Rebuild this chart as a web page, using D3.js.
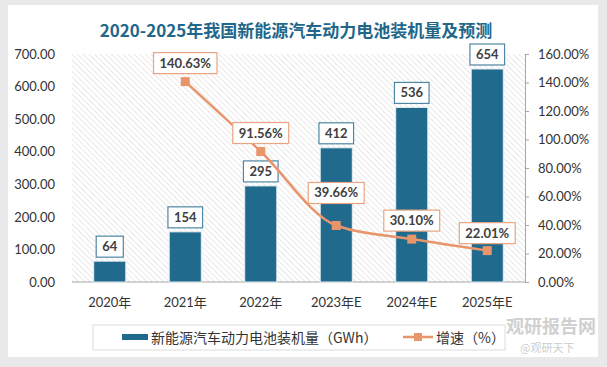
<!doctype html>
<html>
<head>
<meta charset="utf-8"/>
<title>2020-2025年我国新能源汽车动力电池装机量及预测</title>
<script src="https://d3js.org/d3.v7.min.js"></script>
<style>
  body { margin: 0; background: #e9e9e9; }
  svg { display: block; }
</style>
</head>
<body>
<script>
// data
var years = ["2020年", "2021年", "2022年", "2023年E", "2024年E", "2025年E"];
var volume = [64, 154, 295, 412, 536, 654];          // GWh
var growth = [null, 140.63, 91.56, 39.66, 30.10, 22.01]; // %
var leftTicks = [0, 100, 200, 300, 400, 500, 600, 700];
var rightTicks = [0, 20, 40, 60, 80, 100, 120, 140, 160];
var seriesNames = ["新能源汽车动力电池装机量（GWh）", "增速（%）"];

var W = 607, H = 367;
var plotL = 72, plotR = 525, plotT = 54, plotB = 282;
var barColor = "#1f6a8d", lineColor = "#e8956b";
var numFont = "Lato, 'Noto Sans CJK SC', sans-serif";
var cjkFont = "'Noto Sans CJK SC', 'Noto Sans', sans-serif";

var svg = d3.select("body").append("svg")
    .attr("width", W)
    .attr("height", H);

// card
svg.append("rect").attr("x", 8).attr("y", 5).attr("width", 590).attr("height", 352)
    .attr("fill", "#fff");

// hatch pattern
var defs = svg.append("defs");
var pat = defs.append("pattern")
    .attr("id", "hatch")
    .attr("patternUnits", "userSpaceOnUse")
    .attr("width", 4).attr("height", 4)
    .attr("patternTransform", "rotate(-45)");
pat.append("rect").attr("width", 4).attr("height", 4).attr("fill", "#fff");
pat.append("line").attr("x1", 0).attr("y1", 0).attr("x2", 0).attr("y2", 4)
    .attr("stroke", "#d9d9d9").attr("stroke-width", 1.2);

svg.append("rect").attr("x", plotL).attr("y", plotT)
    .attr("width", plotR - plotL).attr("height", plotB - plotT)
    .attr("fill", "url(#hatch)");

// title
svg.append("text")
    .attr("x", 296).attr("y", 37)
    .attr("text-anchor", "middle")
    .attr("font-family", cjkFont)
    .attr("font-weight", "bold")
    .attr("font-size", 17)
    .attr("fill", "#22678a")
    .text("2020-2025年我国新能源汽车动力电池装机量及预测");

// scales
var x = d3.scaleBand().domain(years).range([plotL, plotR])
    .paddingInner(0.575).paddingOuter(0.2875);
var yL = d3.scaleLinear().domain([0, 700]).range([plotB, plotT]);
var yR = d3.scaleLinear().domain([0, 160]).range([plotB, plotT]);

// left axis
var gL = svg.append("g").attr("transform", "translate(" + (plotL - 14) + ",0)")
    .call(d3.axisLeft(yL).tickValues(leftTicks).tickSize(0).tickFormat(d3.format(".2f")));
gL.select(".domain").remove();
gL.selectAll("text").attr("font-family", numFont).attr("font-size", 13).attr("fill", "#333");

// right axis
var gR = svg.append("g").attr("transform", "translate(" + plotR + ",0)")
    .call(d3.axisRight(yR).tickValues(rightTicks).tickSize(4).tickPadding(9)
        .tickFormat(function (d) { return d.toFixed(2) + "%"; }));
gR.select(".domain").attr("stroke", "#a6a6a6");
gR.selectAll(".tick line").attr("stroke", "#a6a6a6");
gR.selectAll("text").attr("font-family", numFont).attr("font-size", 13).attr("fill", "#333");

// bottom axis
var gB = svg.append("g").attr("transform", "translate(0," + plotB + ")")
    .call(d3.axisBottom(x).tickSize(0).tickPadding(16));
gB.select(".domain").attr("stroke", "#a6a6a6").attr("d", "M" + plotL + ",0H" + plotR);
gB.selectAll("text").attr("font-family", numFont).attr("font-size", 13).attr("fill", "#333");

// bars
svg.append("g").selectAll("rect").data(volume).join("rect")
    .attr("x", function (d, i) { return x(years[i]); })
    .attr("y", function (d) { return yL(d); })
    .attr("width", x.bandwidth())
    .attr("height", function (d) { return plotB - yL(d); })
    .attr("fill", barColor)
    .attr("stroke", "#e6eef2").attr("stroke-width", 1);

// labelled box helper
function labelBox(g, cx, by, txt, border) {
  var t = g.append("text")
      .attr("x", cx).attr("y", by - 6)
      .attr("text-anchor", "middle")
      .attr("font-family", numFont)
      .attr("font-weight", "bold")
      .attr("font-size", 13)
      .attr("fill", "#404040")
      .text(txt);
  var w = t.node().getComputedTextLength() + 12;
  g.insert("rect", "text")
      .attr("x", cx - w / 2).attr("y", by - 21)
      .attr("width", w).attr("height", 21)
      .attr("fill", "#fff")
      .attr("stroke", border).attr("stroke-width", 1.2);
}

var cx = function (i) { return x(years[i]) + x.bandwidth() / 2; };

volume.forEach(function (d, i) {
  var g = svg.append("g");
  labelBox(g, cx(i), yL(d) - 4, String(d), "#4f86a3");
});

// growth line
var pts = growth.map(function (d, i) { return { i: i, v: d }; })
    .filter(function (p) { return p.v !== null; });

svg.append("path").datum(pts)
    .attr("fill", "none")
    .attr("stroke", lineColor)
    .attr("stroke-width", 2.5)
    .attr("d", d3.line()
        .x(function (p) { return cx(p.i); })
        .y(function (p) { return yR(p.v); })
        .curve(d3.curveMonotoneX));

svg.append("g").selectAll("rect").data(pts).join("rect")
    .attr("x", function (p) { return cx(p.i) - 4.5; })
    .attr("y", function (p) { return yR(p.v) - 4.5; })
    .attr("width", 9).attr("height", 9)
    .attr("fill", lineColor);

var pctLift = [0, 8, 8, 22, 8, 7];
pts.forEach(function (p) {
  var g = svg.append("g");
  labelBox(g, cx(p.i), yR(p.v) - pctLift[p.i], p.v.toFixed(2) + "%", "#e9a583");
});

// legend
var lg = svg.append("g");
lg.append("rect").attr("x", 93).attr("y", 325).attr("width", 412).attr("height", 25)
    .attr("fill", "#fff").attr("stroke", "#dcdcdc");
lg.append("rect").attr("x", 122).attr("y", 334).attr("width", 26).attr("height", 6)
    .attr("fill", barColor);
lg.append("text").attr("x", 151).attr("y", 343)
    .attr("font-family", cjkFont).attr("font-size", 14).attr("fill", "#333")
    .text(seriesNames[0]);
lg.append("line").attr("x1", 403).attr("x2", 433).attr("y1", 337).attr("y2", 337)
    .attr("stroke", lineColor).attr("stroke-width", 2.5);
lg.append("rect").attr("x", 414).attr("y", 333).attr("width", 8).attr("height", 8)
    .attr("fill", lineColor);
lg.append("text").attr("x", 436).attr("y", 343)
    .attr("font-family", cjkFont).attr("font-size", 14).attr("fill", "#333")
    .text(seriesNames[1]);

// watermark
svg.append("text").attr("x", 506).attr("y", 333)
    .attr("font-family", cjkFont).attr("font-weight", "bold").attr("font-size", 18)
    .attr("fill", "#999").attr("opacity", 0.45)
    .text("观研报告网");
svg.append("text").attr("x", 520).attr("y", 352)
    .attr("font-family", cjkFont).attr("font-size", 11)
    .attr("fill", "#aaa").attr("opacity", 0.6)
    .text("@观研天下");
</script>
</body>
</html>
